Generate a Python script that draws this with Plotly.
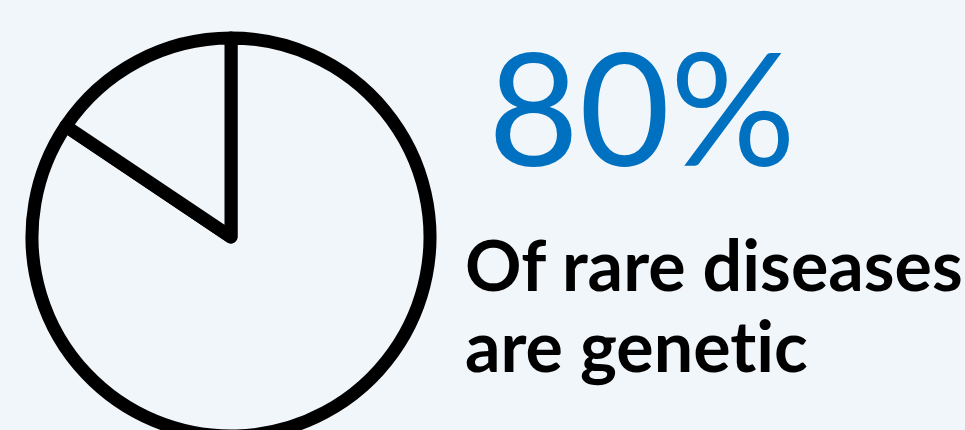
import plotly.graph_objects as go

# Data
labels = ["Genetic", "Other"]
values = [84.4, 15.6]
headline = "80%"
caption_lines = ["Of rare diseases", "are genet\u200cic"]

W, H = 965, 450
BG = "#F1F6FB"

def py(px):
    return 1 - px / H

fig = go.Figure()
fig.add_trace(go.Pie(
    labels=labels,
    values=values,
    sort=False,
    direction="clockwise",
    rotation=0,
    textinfo="none",
    hoverinfo="label+percent",
    marker=dict(colors=[BG, BG], line=dict(color="#000000", width=13)),
    domain=dict(x=[32 / W, 430 / W], y=[py(436), py(38)]),
    showlegend=False,
))

fig.add_annotation(
    text=headline, x=486 / W, y=py(105), xref="paper", yref="paper",
    xanchor="left", yanchor="middle", showarrow=False,
    font=dict(family="Lato", size=157, color="#0070C0"),
)
for line, center in zip(caption_lines, [264, 345]):
    fig.add_annotation(
        text=line, x=463 / W, y=py(center), xref="paper", yref="paper",
        xanchor="left", yanchor="middle", showarrow=False, align="left",
        font=dict(family="Lato", size=70, color="#000000", weight="bold"),
    )

fig.update_layout(
    width=W, height=H,
    margin=dict(l=0, r=0, t=0, b=0),
    paper_bgcolor=BG, plot_bgcolor=BG,
)

fig.write_html(
    "out.html",
    post_script="document.documentElement.style.overflow='hidden';document.body.style.overflow='hidden';document.body.style.margin='0';",
)
